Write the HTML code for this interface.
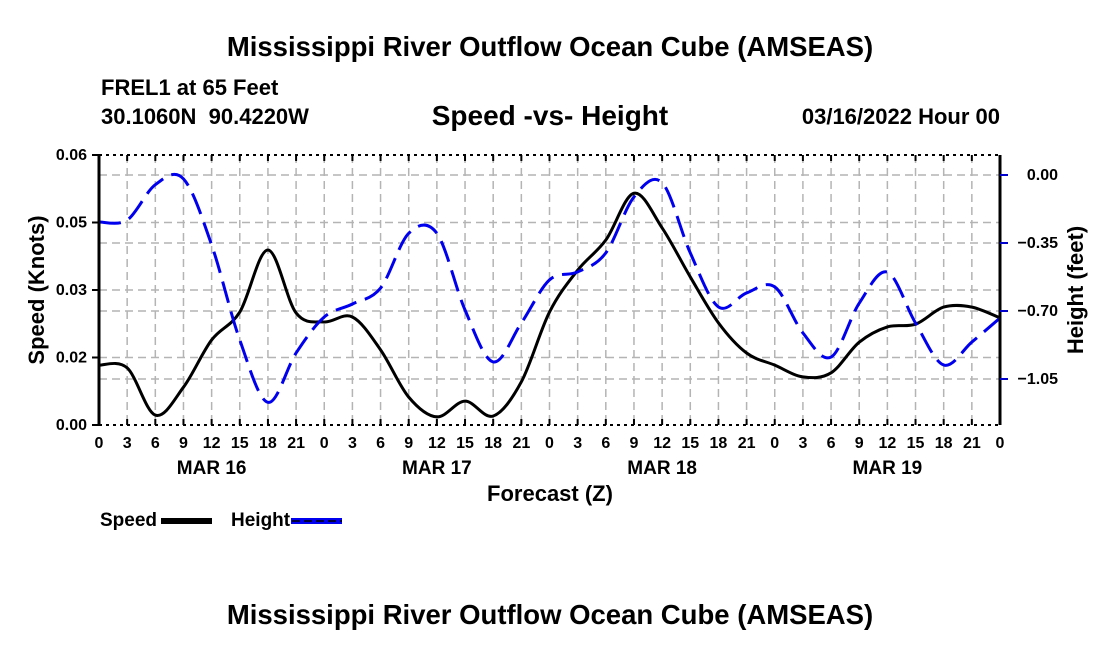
<!DOCTYPE html>
<html><head><meta charset="utf-8"><style>
body{margin:0;background:#fff;}
svg{display:block;font-family:"Liberation Sans",Arial,sans-serif;font-weight:bold;}
</style></head><body>
<svg id="chart" width="1100" height="650" viewBox="0 0 1100 650">
<text x="550" y="56" font-size="27.5" text-anchor="middle">Mississippi River Outflow Ocean Cube (AMSEAS)</text>
<text x="101" y="95" font-size="22">FREL1 at 65 Feet</text>
<text x="101" y="124" font-size="22">30.1060N&#160;&#160;90.4220W</text>
<text x="550" y="125" font-size="28" text-anchor="middle">Speed -vs- Height</text>
<text x="1000" y="124" font-size="22" text-anchor="end">03/16/2022 Hour 00</text>
<g id="grid"></g>
<g id="series"></g>
<g id="axes"></g>
<text transform="translate(44,290) rotate(-90)" font-size="22" text-anchor="middle">Speed (Knots)</text>
<text transform="translate(1083,290) rotate(-90)" font-size="22" text-anchor="middle">Height (feet)</text>
<text x="550" y="501" font-size="22" text-anchor="middle">Forecast (Z)</text>
<g>
<text x="100" y="526" font-size="19">Speed</text>
<rect x="161" y="518" width="51" height="6" fill="#000"/>
<text x="231" y="526" font-size="19">Height</text>
<rect x="291" y="518" width="51" height="6" fill="#0000ee"/>
<line x1="292" y1="521" x2="342" y2="521" stroke="#000" stroke-width="1.5" stroke-dasharray="8 4"/>
</g>
<text x="550" y="624" font-size="27.5" text-anchor="middle">Mississippi River Outflow Ocean Cube (AMSEAS)</text>
</svg>
<script>
const hours = [0,3,6,9,12,15,18,21,24,27,30,33,36,39,42,45,48,51,54,57,60,63,66,69,72,75,78,81,84,87,90,93,96];
const speedValues = [0.0133,0.0127,0.0022,0.0084,0.0189,0.0251,0.0389,0.0249,0.0229,0.0240,0.0167,0.0062,0.0018,0.0053,0.0020,0.0096,0.0251,0.0344,0.0411,0.0515,0.0438,0.0329,0.0227,0.0160,0.0133,0.0107,0.0116,0.0184,0.0218,0.0224,0.0262,0.0262,0.0238];
const heightValues = [-0.242,-0.232,-0.05,-0.02,-0.36,-0.849,-1.17,-0.916,-0.731,-0.664,-0.582,-0.30,-0.30,-0.695,-0.962,-0.762,-0.540,-0.499,-0.401,-0.113,-0.04,-0.401,-0.679,-0.607,-0.576,-0.813,-0.937,-0.66,-0.50,-0.762,-0.978,-0.860,-0.736];
const leftTicks = [0,0.015,0.03,0.045,0.06];
const leftTickLabels = ["0.00","0.02","0.03","0.05","0.06"];
const rightTicks = [0,-0.35,-0.70,-1.05];
const rightTickLabels = ["0.00","\u22120.35","\u22120.70","\u22121.05"];
const hourTickLabels = ["0","3","6","9","12","15","18","21"];
const dayLabels = ["MAR 16","MAR 17","MAR 18","MAR 19"];

const X0=99,X1=1000,Y0=425,Y1=155;
const xs=h=>X0+(h/96)*(X1-X0);
const yL=v=>Y0-(v/0.06)*(Y0-Y1);
const yR=v=>175-(v/0.35)*68;
const NS="http://www.w3.org/2000/svg";
function mk(tag,attrs,parent){const e=document.createElementNS(NS,tag);for(const k in attrs)e.setAttribute(k,attrs[k]);parent.appendChild(e);return e;}
const grid=document.getElementById('grid'),axes=document.getElementById('axes'),series=document.getElementById('series');
const gs={stroke:"#b4b4b4","stroke-width":1.5,"stroke-dasharray":"8 5"};
for(let h=3;h<96;h+=3){const l=mk('line',Object.assign({x1:xs(h),x2:xs(h),y1:Y1,y2:Y0},gs),grid);

}
leftTicks.slice(1,4).forEach(v=>{const l=mk('line',Object.assign({x1:X0,x2:X1,y1:yL(v),y2:yL(v)},gs),grid);

});
rightTicks.forEach(v=>{const l=mk('line',Object.assign({x1:X0,x2:X1,y1:yR(v),y2:yR(v)},gs),grid);

});
function pathD(hs,vals,yf){const p=hs.map((h,i)=>[xs(h),yf(vals[i])]);let d=`M${p[0][0]},${p[0][1]}`;
for(let i=0;i<p.length-1;i++){const a=p[Math.max(0,i-1)],b=p[i],c=p[i+1],e=p[Math.min(p.length-1,i+2)];
const c1=[b[0]+(c[0]-a[0])/6,b[1]+(c[1]-a[1])/6],c2=[c[0]-(e[0]-b[0])/6,c[1]-(e[1]-b[1])/6];
d+=` C${c1[0]},${c1[1]} ${c2[0]},${c2[1]} ${c[0]},${c[1]}`;}return d;}
const sp=mk('path',{d:pathD(hours,speedValues,yL),fill:"none",stroke:"#000","stroke-width":3},series);


const hp=mk('path',{d:pathD(hours,heightValues,yR),fill:"none",stroke:"#0000ee","stroke-width":3,"stroke-dasharray":"22 9"},series);


[[X0,Y1,X0,Y0,"left-axis"],[X1,Y1,X1,Y0,"right-axis"]].forEach(a=>{const l=mk('line',{x1:a[0],y1:a[1],x2:a[2],y2:a[3],stroke:"#000","stroke-width":3},axes);

});
[[Y1,"top-axis"],[Y0,"bottom-axis"]].forEach(a=>{const l=mk('line',{x1:X0,y1:a[0],x2:X1,y2:a[0],stroke:"#000","stroke-width":2,"stroke-dasharray":"3 4"},axes);

});
for(let h=0;h<=96;h+=3){[[Y0,Y0-6],[Y1,Y1+6]].forEach(t=>{const l=mk('line',{x1:xs(h),x2:xs(h),y1:t[0],y2:t[1],stroke:"#000","stroke-width":2},axes);

});
const lbl=h===96?"0":hourTickLabels[(h%24)/3];
const t=mk('text',{x:xs(h),y:448,"font-size":16,"text-anchor":"middle"},axes);t.textContent=lbl;

}
dayLabels.forEach((d,i)=>{const t=mk('text',{x:xs(i*24+12),y:474,"font-size":19,"text-anchor":"middle"},axes);t.textContent=d;

});
leftTicks.forEach((v,i)=>{const l=mk('line',{x1:X0-7,x2:X0,y1:yL(v),y2:yL(v),stroke:"#000","stroke-width":2},axes);


const t=mk('text',{x:X0-12,y:yL(v)+5,"font-size":16,"text-anchor":"end"},axes);t.textContent=leftTickLabels[i];

});
rightTicks.forEach((v,i)=>{const l=mk('line',{x1:X1,x2:X1+8,y1:yR(v),y2:yR(v),stroke:"#0000cc","stroke-width":2},axes);


const t=mk('text',{x:1058,y:yR(v)+5,"font-size":16,"text-anchor":"end"},axes);t.textContent=rightTickLabels[i];

});
</script>
</body></html>
